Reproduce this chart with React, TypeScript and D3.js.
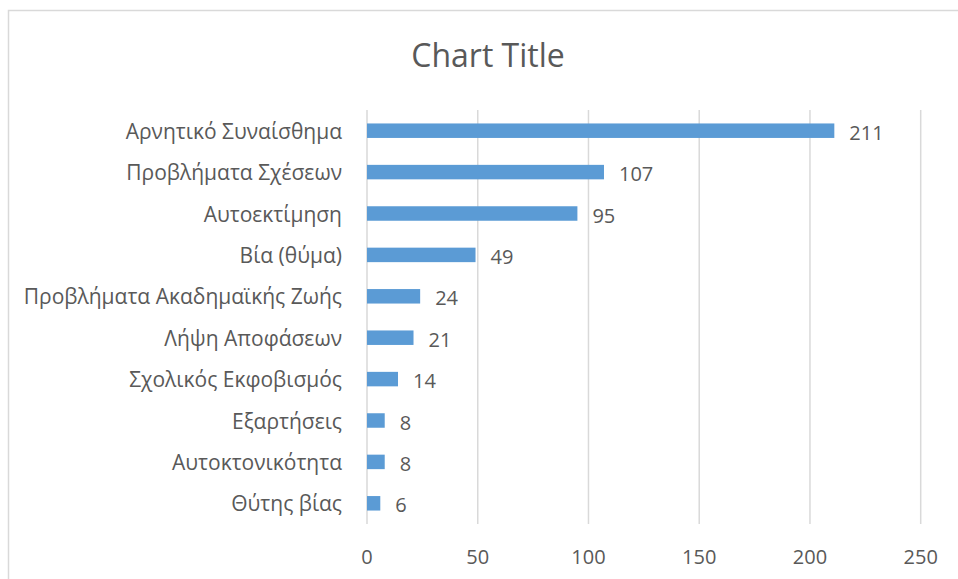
import * as d3 from "d3";
import { useEffect, useRef } from "react";

const categories = [
  "Αρνητικό Συναίσθημα",
  "Προβλήματα Σχέσεων",
  "Αυτοεκτίμηση",
  "Βία (θύμα)",
  "Προβλήματα Ακαδημαϊκής Ζωής",
  "Λήψη Αποφάσεων",
  "Σχολικός Εκφοβισμός",
  "Εξαρτήσεις",
  "Αυτοκτονικότητα",
  "Θύτης βίας",
];
const values = [211, 107, 95, 49, 24, 21, 14, 8, 8, 6];
const xTicks = [0, 50, 100, 150, 200, 250];

export default function App() {
  const svgRef = useRef<SVGSVGElement | null>(null);

  useEffect(() => {
    const width = 958;
    const height = 579;
    const font = "'Open Sans', 'DejaVu Sans', sans-serif";
    const text = "#595959";

    const svg = d3.select(svgRef.current);
    svg.selectAll("*").remove();
    svg.attr("width", width).attr("height", height);

    svg
      .append("rect")
      .attr("x", 8.5)
      .attr("y", 10.5)
      .attr("width", width)
      .attr("height", height)
      .attr("fill", "#fff")
      .attr("stroke", "#d9d9d9")
      .attr("stroke-width", 1.5);

    const x = d3.scaleLinear().domain([0, 250]).range([367, 920.7]);
    const y = d3
      .scaleBand()
      .domain(categories)
      .range([110, 524])
      .paddingInner(0.65)
      .paddingOuter(0.325);

    svg
      .append("text")
      .attr("x", 488)
      .attr("y", 54)
      .attr("text-anchor", "middle")
      .attr("dominant-baseline", "central")
      .attr("font-family", font)
      .attr("font-size", 32)
      .attr("fill", text)
      .text("Chart Title");

    svg
      .append("g")
      .selectAll("line")
      .data(xTicks)
      .join("line")
      .attr("x1", (d) => x(d))
      .attr("x2", (d) => x(d))
      .attr("y1", 110)
      .attr("y2", 524)
      .attr("stroke", "#d9d9d9")
      .attr("stroke-width", 1.5);

    svg
      .append("g")
      .selectAll("text")
      .data(xTicks)
      .join("text")
      .attr("x", (d) => x(d))
      .attr("y", 556)
      .attr("text-anchor", "middle")
      .attr("dominant-baseline", "central")
      .attr("font-family", font)
      .attr("font-size", 20)
      .attr("fill", text)
      .text((d) => d);

    const rows = categories.map((c, i) => ({ c, v: values[i] }));

    svg
      .append("g")
      .selectAll("rect")
      .data(rows)
      .join("rect")
      .attr("x", x(0))
      .attr("y", (d) => y(d.c)!)
      .attr("width", (d) => x(d.v) - x(0))
      .attr("height", y.bandwidth())
      .attr("fill", "#5b9bd5");

    svg
      .append("g")
      .selectAll("text")
      .data(rows)
      .join("text")
      .attr("x", (d) => x(d.v) + 15)
      .attr("y", (d) => y(d.c)! + y.bandwidth() / 2 + 1.5)
      .attr("dominant-baseline", "central")
      .attr("font-family", font)
      .attr("font-size", 20)
      .attr("fill", text)
      .text((d) => d.v);

    svg
      .append("g")
      .selectAll("text")
      .data(rows)
      .join("text")
      .attr("x", 342)
      .attr("y", (d) => y(d.c)! + y.bandwidth() / 2)
      .attr("text-anchor", "end")
      .attr("dominant-baseline", "central")
      .attr("font-family", font)
      .attr("font-size", 21)
      .attr("fill", text)
      .text((d) => d.c);
  }, []);

  return (
    <div style={{ position: "absolute", left: 0, top: 0 }}>
      <svg ref={svgRef} style={{ display: "block" }}></svg>
    </div>
  );
}
